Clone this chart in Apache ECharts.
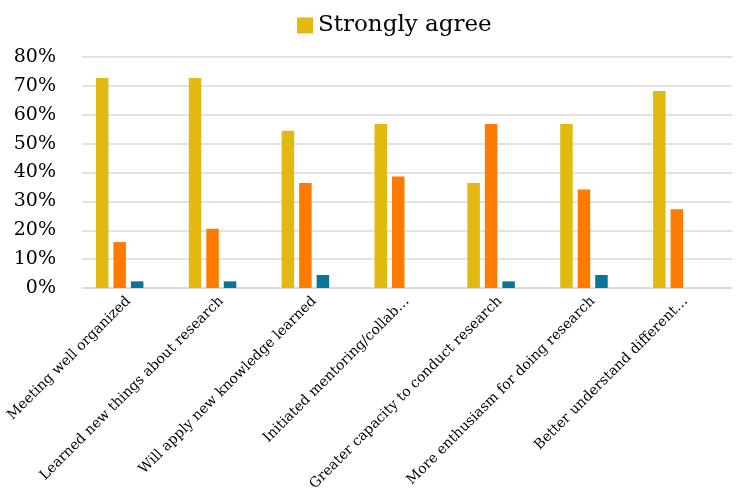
<!DOCTYPE html>
<html>
<head>
<meta charset="utf-8">
<script src="https://cdn.jsdelivr.net/npm/echarts@6/dist/echarts.min.js"></script>
<style>html,body{margin:0;padding:0;background:#fff;}#c{width:736px;height:493px;}</style>
</head>
<body>
<div id="c"></div>
<script>
const categories = [
  'Meeting well organized',
  'Learned new things about research',
  'Will apply new knowledge learned',
  'Initiated mentoring/collab…',
  'Greater capacity to conduct research',
  'More enthusiasm for doing research',
  'Better understand different…'
];
const seriesNames = ['Strongly agree', 'Agree', 'Neutral', 'Disagree'];
const stronglyAgree = [72.7, 72.7, 54.5, 56.8, 36.4, 56.8, 68.2];
const agree = [15.9, 20.5, 36.4, 38.6, 56.8, 34.1, 27.3];
const neutral = [2.3, 2.3, 4.5, 0, 2.3, 4.5, 0];
const disagree = [0, 0, 0, 0, 0, 0, 0];
const yTicks = ['0%', '10%', '20%', '30%', '40%', '50%', '60%', '70%', '80%'];
const colors = ['#E2B811', '#FF7B00', '#0A7596', '#A5A5A5'];

const FONT = 'DejaVu Serif';
const chart = echarts.init(document.getElementById('c'));
const values = [stronglyAgree, agree, neutral, disagree];
chart.setOption({
  animation: false,
  color: colors,
  textStyle: { fontFamily: FONT },
  legend: {
    data: [seriesNames[0]],
    left: 292, top: 9,
    itemWidth: 16, itemHeight: 16, itemGap: 8,
    icon: 'rect',
    textStyle: { fontFamily: FONT, fontSize: 23, color: '#000' }
  },
  grid: { left: 82, right: 4, top: 57, bottom: 205, containLabel: false, outerBoundsMode: 'none' },
  xAxis: {
    type: 'category',
    data: categories,
    axisLine: { lineStyle: { color: '#D9D9D9', width: 1.5 } },
    axisTick: { show: false },
    axisLabel: { rotate: 45, interval: 0, margin: 11, fontFamily: FONT, fontSize: 14, color: '#000' }
  },
  yAxis: {
    type: 'value',
    min: 0, max: 80, interval: 10,
    axisLine: { show: false },
    axisTick: { show: false },
    splitLine: { lineStyle: { color: '#D9D9D9', width: 1.5 } },
    axisLabel: {
      margin: 26, fontFamily: FONT, fontSize: 19, color: '#000',
      formatter: function (v) { return yTicks[Math.round(v / 10)]; }
    }
  },
  series: values.map(function (d, i) {
    return {
      name: seriesNames[i],
      type: 'bar',
      data: d,
      barGap: '40%',
      barCategoryGap: '30%'
    };
  })
});
</script>
</body>
</html>
